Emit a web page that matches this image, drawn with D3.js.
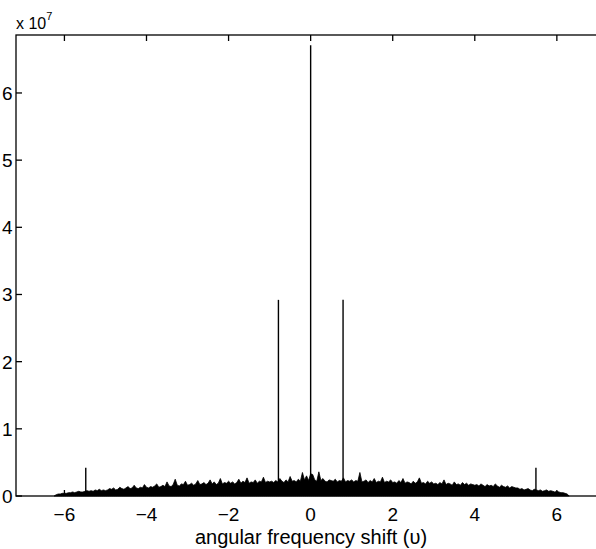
<!DOCTYPE html>
<meta charset="utf-8">
<style>
body { margin: 0; background: #fff; }
svg { font-family: "Liberation Sans", Arial, sans-serif; }
</style>
<svg id="chart" width="596" height="549"></svg>
<script src="https://cdn.jsdelivr.net/npm/d3@7/dist/d3.min.js"></script>
<script>
// noise floor: upper envelope, in units of 1e5, sampled every 0.05 from -6.25
var noiseStart = -6.25, noiseStep = 0.05;
var noiseTop = [
  0,2,3,3,4,4,
  4,5,5,6,5,6,7,6,6,7,8,7,8,7,9,8,10,8,9,8,
  9,11,10,12,9,10,13,11,10,12,14,11,12,16,12,11,13,12,17,13,
  12,14,13,15,18,13,14,16,14,21,15,14,17,25,16,15,18,17,22,16,
  17,19,16,18,23,17,18,20,17,19,24,18,21,17,19,26,18,20,19,22,
  19,21,18,20,25,19,22,20,27,19,21,20,24,19,22,21,28,20,22,21,
  22,20,23,21,26,22,20,24,21,29,22,23,21,25,22,35,24,30,23,33,
  32,24,22,36,23,26,22,21,24,23,22,25,21,23,22,27,21,23,22,24,
  21,23,22,35,21,22,24,20,23,21,26,20,22,21,28,20,22,21,24,20,
  21,19,23,20,26,19,21,20,18,22,19,21,27,19,20,18,22,19,21,18,
  19,17,20,18,24,17,19,18,16,21,17,18,16,20,17,19,16,18,17,16,
  17,15,18,16,14,17,15,16,14,18,15,13,16,14,13,15,12,14,13,12,
  12,10,11,9,10,11,9,8,10,9,8,9,7,8,9,7,8,7,6,7,
  6,5,5,4,3,0
];
// isolated spectral lines
var peakX = [-5.48, -0.785, 0, 0.79, 5.49];
var peakY = [0.42e7, 2.92e7, 6.71e7, 2.92e7, 0.42e7];

var xTicks = [-6, -4, -2, 0, 2, 4, 6];
var yTicks = [0, 1e7, 2e7, 3e7, 4e7, 5e7, 6e7];

var svg = d3.select("#chart");
var mLeft = 16, mRight = 602, mTop = 35, mBottom = 496;

var x = d3.scaleLinear().domain([-7.18, 7.1]).range([mLeft, mRight]);
var y = d3.scaleLinear().domain([0, 6.863e7]).range([mBottom, mTop]);

var noise = noiseTop.map(function(v, i) {
  return { x: noiseStart + i * noiseStep, y: v * 1e5 };
});

var plot = svg.append("g");

plot.append("path")
    .datum(noise)
    .attr("fill", "#000")
    .attr("stroke", "#000")
    .attr("stroke-width", 0.8)
    .attr("d", d3.area()
      .x(function(d) { return x(d.x); })
      .y0(y(0))
      .y1(function(d) { return y(d.y); }));

plot.selectAll("line.peak")
    .data(peakX)
  .enter().append("line")
    .attr("class", "peak")
    .attr("x1", function(d) { return x(d); })
    .attr("x2", function(d) { return x(d); })
    .attr("y1", y(0))
    .attr("y2", function(d, i) { return y(peakY[i]); })
    .attr("stroke", "#000")
    .attr("stroke-width", 1.4);

// box + inward ticks, matlab style
var tickLen = 6;
var axes = svg.append("g").attr("stroke", "#000").attr("stroke-width", 1.3);
axes.append("rect")
    .attr("x", mLeft).attr("y", mTop)
    .attr("width", mRight - mLeft).attr("height", mBottom - mTop)
    .attr("fill", "none");

xTicks.forEach(function(t) {
  axes.append("line").attr("x1", x(t)).attr("x2", x(t)).attr("y1", mBottom).attr("y2", mBottom - tickLen);
  axes.append("line").attr("x1", x(t)).attr("x2", x(t)).attr("y1", mTop).attr("y2", mTop + tickLen);
});
yTicks.forEach(function(t) {
  axes.append("line").attr("x1", mLeft).attr("x2", mLeft + tickLen).attr("y1", y(t)).attr("y2", y(t));
  axes.append("line").attr("x1", mRight).attr("x2", mRight - tickLen).attr("y1", y(t)).attr("y2", y(t));
});

var fmtX = function(d) { return d < 0 ? "\u2212" + Math.abs(d) : "" + d; };

svg.append("g").selectAll("text")
    .data(xTicks)
  .enter().append("text")
    .attr("x", function(d) { return x(d); })
    .attr("y", 521)
    .attr("text-anchor", "middle")
    .attr("font-size", 19)
    .text(fmtX);

svg.append("g").selectAll("text")
    .data(yTicks)
  .enter().append("text")
    .attr("x", 12.5)
    .attr("y", function(d) { return y(d) + 7; })
    .attr("text-anchor", "end")
    .attr("font-size", 19)
    .text(function(d) { return d / 1e7; });

var exp = svg.append("text").attr("x", 16).attr("y", 29).attr("font-size", 16);
exp.append("tspan").text("x 10");
exp.append("tspan").attr("dy", -9).attr("font-size", 11).text("7");

svg.append("text")
    .attr("x", 311)
    .attr("y", 544)
    .attr("text-anchor", "middle")
    .attr("font-size", 20)
    .text("angular frequency shift (\u03c5)");
</script>
